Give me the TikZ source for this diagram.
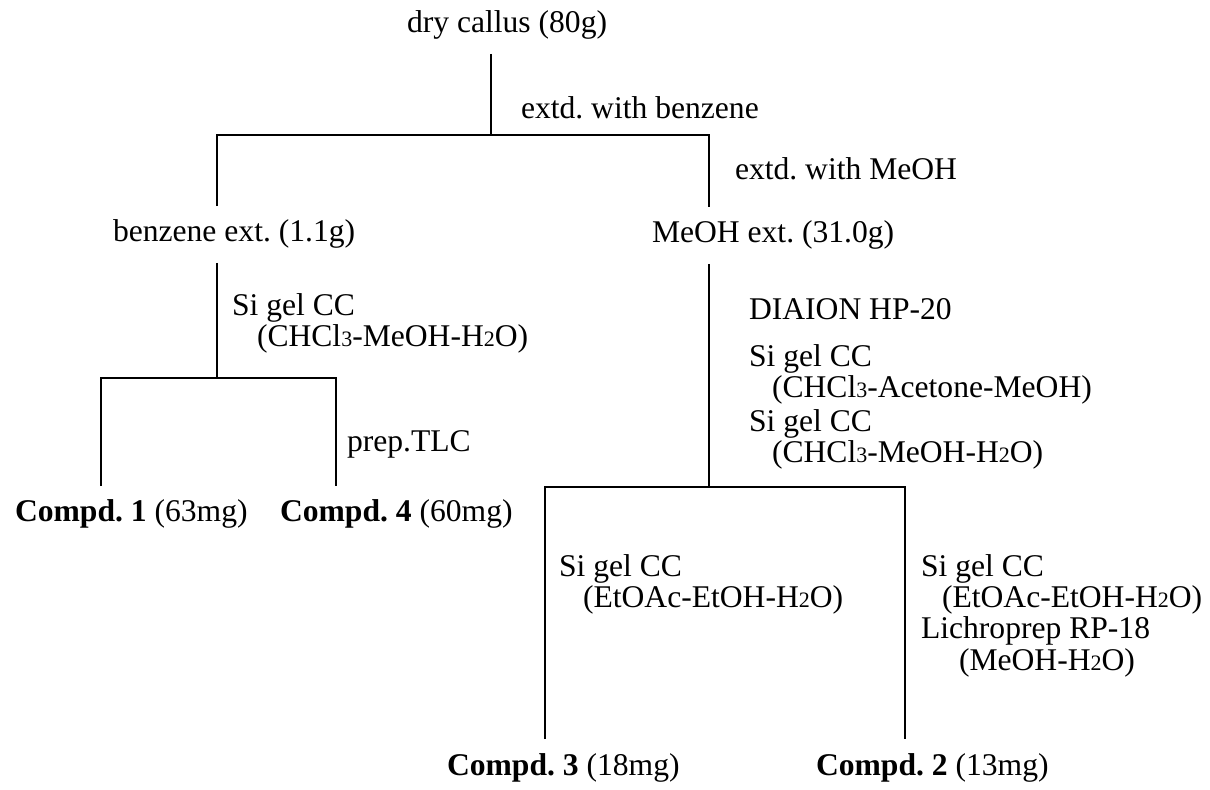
\documentclass[tikz,border=0pt]{standalone}
\usepackage{fontspec}
\setmainfont{Liberation Serif}
\usepackage{tikz}
\usetikzlibrary{calc}
\frenchspacing
\newcommand{\chsub}[1]{{\fontsize{11}{11}\selectfont #1}}
\tikzset{
  tree/.style={draw=black,line width=1pt},
  stage/.style={anchor=base west,inner sep=0pt,outer xsep=0pt,outer ysep=7pt},
  note/.style={anchor=base west,inner sep=0pt,outer sep=0pt}
}

\begin{document}
\begin{tikzpicture}[x=0.5pt,y=-0.5pt,font=\fontsize{15.8}{16}\selectfont]
  \useasboundingbox (0,0) rectangle (1210,790);
  % separation stages
  \node[stage] (callus) at (407,33)  {dry callus (80g)};
  \node[stage] (benz)   at (113,242) {benzene ext. (1.1g)};
  \node[stage] (meoh)   at (652,243) {MeOH ext. (31.0g)};
  \node[stage] (cmp1)   at (15,522)  {\textbf{Compd. 1} (63mg)};
  \node[stage] (cmp4)   at (280,522) {\textbf{Compd. 4} (60mg)};
  \node[stage] (cmp3)   at (447,775) {\textbf{Compd. 3} (18mg)};
  \node[stage] (cmp2)   at (816,775) {\textbf{Compd. 2} (13mg)};
  % conditions
  \node[note] (ebenz) at (521,119) {extd. with benzene};
  \node[note] (emeoh) at (735,180) {extd. with MeOH};
  \node[note] (sgA)   at (232,316) {Si gel CC};
  \node[note] (slA)   at (257,347) {(CHCl\chsub{3}-MeOH-H\chsub{2}O)};
  \node[note] (tlc)   at (347,452) {prep.TLC};
  \node[note] (hp)    at (749,320) {DIAION HP-20};
  \node[note] (sgB)   at (749,367) {Si gel CC};
  \node[note] (slB)   at (772,398) {(CHCl\chsub{3}-Acetone-MeOH)};
  \node[note] (sgC)   at (749,432) {Si gel CC};
  \node[note] (slC)   at (772,463) {(CHCl\chsub{3}-MeOH-H\chsub{2}O)};
  \node[note] (sgD)   at (559,577) {Si gel CC};
  \node[note] (slD)   at (583,608) {(EtOAc-EtOH-H\chsub{2}O)};
  \node[note] (sgE)   at (921,577) {Si gel CC};
  \node[note] (slE)   at (942,608) {(EtOAc-EtOH-H\chsub{2}O)};
  \node[note] (rp)    at (921,639) {Lichroprep RP-18};
  \node[note] (slF)   at (959,670) {(MeOH-H\chsub{2}O)};
  % branch points
  \coordinate (top)  at (491,135);
  \coordinate (topL) at (217,135);
  \coordinate (topR) at (709,135);
  \coordinate (midL) at (217,378);
  \coordinate (c1)   at (101,378);
  \coordinate (c4)   at (336,378);
  \coordinate (midR) at (709,487);
  \coordinate (c3)   at (545,487);
  \coordinate (c2)   at (905,487);
  \draw[tree] (callus.south -| top) -- (top);
  \draw[tree] (benz.north -| topL) -- (topL) -- (topR) -- (meoh.north -| topR);
  \draw[tree] (benz.south -| midL) -- (midL);
  \draw[tree] (cmp1.north -| c1) -- (c1) -- (c4) -- (cmp4.north -| c4);
  \draw[tree] (meoh.south -| midR) -- (midR);
  \draw[tree] (cmp3.north -| c3) -- (c3) -- (c2) -- (cmp2.north -| c2);
\end{tikzpicture}
\end{document}
